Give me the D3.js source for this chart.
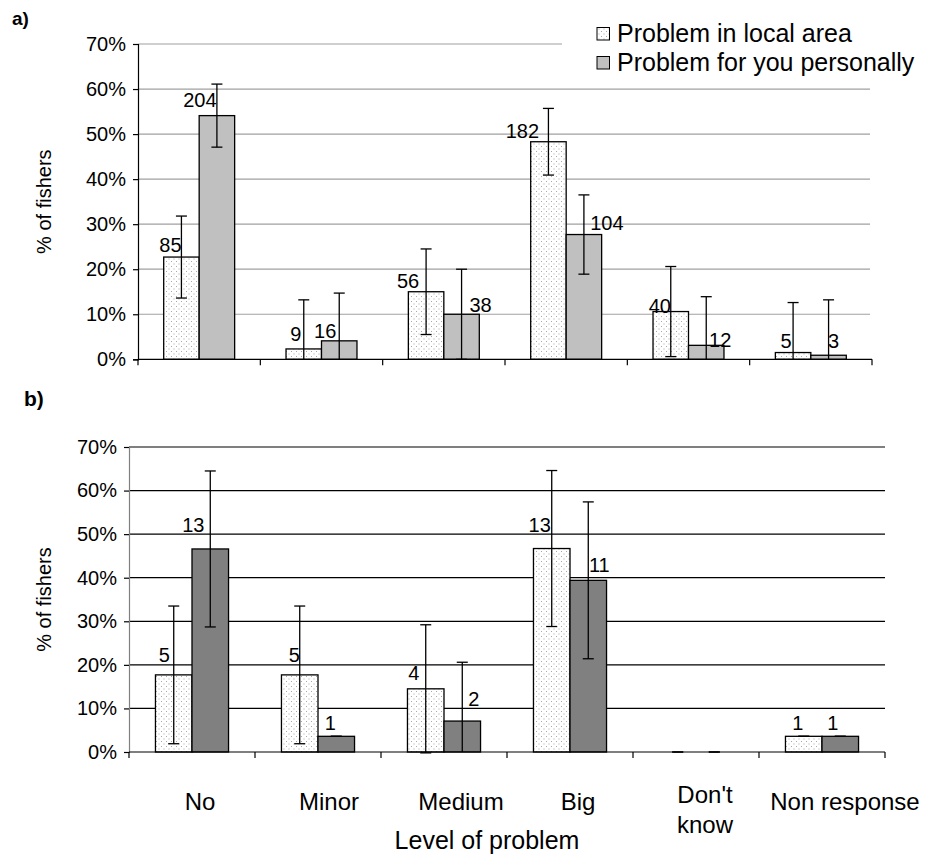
<!DOCTYPE html>
<html><head><meta charset="utf-8">
<script src="https://cdn.jsdelivr.net/npm/d3@7"></script>
<style>body{margin:0;background:#fff}svg{display:block}text{font-family:"Liberation Sans",Arial,sans-serif;fill:#000}</style>
</head><body><svg id="c" width="927" height="856"></svg>
<script>
// ---------- DATA ----------
const categories = ["No", "Minor", "Medium", "Big", "Don't know", "Non response"];
const seriesNames = ["Problem in local area", "Problem for you personally"];
const yTicks = [0, 10, 20, 30, 40, 50, 60, 70];

// panel a) — % of fishers, error half-widths, counts
const aLocal      = [22.7, 2.3, 15.0, 48.3, 10.6, 1.5];
const aPersonal   = [54.1, 4.1, 10.0, 27.7, 3.1, 0.9];
const aLocalErr   = [9.1, 10.9, 9.5, 7.4, 10.0, 11.1];
const aPersonalErr= [7.0, 10.6, 10.0, 8.8, 10.8, 12.3];
const aLocalN     = [85, 9, 56, 182, 40, 5];
const aPersonalN  = [204, 16, 38, 104, 12, 3];

// panel b)
const bLocal      = [17.7, 17.7, 14.5, 46.7, 0, 3.6];
const bPersonal   = [46.6, 3.6, 7.1, 39.4, 0, 3.6];
const bLocalErr   = [15.8, 15.8, 14.7, 17.9, 0, 0];
const bPersonalErr= [17.9, 0, 13.5, 18.0, 0, 0];
const bLocalN     = [5, 5, 4, 13, null, 1];
const bPersonalN  = [13, 1, 2, 11, null, 1];

// ---------- STYLE / LAYOUT ----------
// label offsets [dx from bar centre, dy from bar top] (placement only)
const aLocalLab    = [[-11,-5.5],[-8,-8],[-18,-4],[-26,-4],[-11,1.5],[-7,-5]];
const aPersonalLab = [[-17,-8.5],[-14,-3],[19,-2],[23,-4.5],[14,1.5],[5,-7]];
const bLocalLab    = [[-9.5,-12.5],[-5.5,-13],[-12,-9],[-12,-16.5],[0,0],[-6,-6]];
const bPersonalLab = [[-17,-16.5],[-6,-6],[11.5,-15],[11,-8.5],[0,0],[-7.5,-6]];
const xLabelDx = [8, 11, 17, 8, 9, 23];

const svg = d3.select("#c");
const defs = svg.append("defs");
const pat = defs.append("pattern").attr("id","dots").attr("patternUnits","userSpaceOnUse")
  .attr("width",5).attr("height",5);
pat.append("rect").attr("width",5).attr("height",5).attr("fill","#fff");
pat.append("rect").attr("x",1).attr("y",1).attr("width",1).attr("height",1).attr("fill","#a8a8a8");
pat.append("rect").attr("x",3.5).attr("y",3.5).attr("width",1).attr("height",1).attr("fill","#a8a8a8");

function panel(cfg){
  const g = svg.append("g");
  const x = d3.scaleBand().domain(categories).range([cfg.x0, cfg.x1]).paddingInner(0).paddingOuter(0);
  const y = d3.scaleLinear().domain([0,70]).range([cfg.yb, cfg.yt]);
  const w = x.bandwidth(), bw = w*0.29;
  const sub = d3.scaleBand().domain([0,1]).range([w/2-bw, w/2+bw]);

  // gridlines
  g.append("g").selectAll("line").data(yTicks.filter(d=>d>0)).join("line")
    .attr("x1",cfg.x0).attr("x2",cfg.gridEnd).attr("y1",d=>y(d)).attr("y2",d=>y(d))
    .attr("stroke",cfg.gridColor).attr("stroke-width",1.2);

  // y axis
  const ya = g.append("g").attr("transform",`translate(${cfg.x0},0)`)
    .call(d3.axisLeft(y).tickValues(yTicks).tickFormat(d=>d+"%").tickSize(5).tickPadding(7));
  ya.select(".domain").attr("stroke",cfg.yAxisColor).attr("stroke-width",1.2);
  ya.selectAll(".tick line").attr("stroke","#000").attr("stroke-width",1.2);
  ya.selectAll(".tick text").attr("font-size",20).attr("font-family",'"Liberation Sans",Arial,sans-serif');

  const series = [
    {v:cfg.local, e:cfg.localErr, n:cfg.localN, lab:cfg.localLab, fill:"url(#dots)", k:0},
    {v:cfg.personal, e:cfg.personalErr, n:cfg.personalN, lab:cfg.personalLab, fill:cfg.personalColor, k:1}
  ];
  series.forEach(s=>{
    const bars = categories.map((c,i)=>({c,i,v:s.v[i],e:s.e[i],n:s.n[i],lab:s.lab[i]}));
    g.append("g").selectAll("rect").data(bars.filter(d=>d.v>0)).join("rect")
      .attr("x",d=>x(d.c)+sub(s.k)).attr("width",sub.bandwidth())
      .attr("y",d=>y(d.v)).attr("height",d=>y(0)-y(d.v))
      .attr("fill",s.fill).attr("stroke","#000").attr("stroke-width",1.3);
    s.bars = bars;
  });
  // x axis line + ticks
  g.append("line").attr("x1",cfg.x0).attr("x2",cfg.x1).attr("y1",y(0)).attr("y2",y(0))
    .attr("stroke","#000").attr("stroke-width",1.2);
  const edges = categories.map(c=>x(c)).concat([cfg.x1]);
  g.append("g").selectAll("line").data(edges).join("line")
    .attr("x1",d=>d).attr("x2",d=>d).attr("y1",y(0)).attr("y2",y(0)+6)
    .attr("stroke","#000").attr("stroke-width",1.2);

  // error bars
  const cap = 5.5;
  series.forEach(s=>{
    const eg = g.append("g").attr("stroke","#000").attr("stroke-width",1.3);
    s.bars.forEach(d=>{
      const cx = x(d.c)+sub(s.k)+sub.bandwidth()/2;
      const hi = d.v+d.e, lo = d.v-d.e;
      const loClip = lo < -1 ? 0 : lo;
      eg.append("line").attr("x1",cx).attr("x2",cx).attr("y1",y(hi)).attr("y2",y(loClip));
      eg.append("line").attr("x1",cx-cap).attr("x2",cx+cap).attr("y1",y(hi)).attr("y2",y(hi));
      if (lo >= -1) eg.append("line").attr("x1",cx-cap).attr("x2",cx+cap).attr("y1",y(lo)).attr("y2",y(lo));
    });
  });
  // data labels
  series.forEach(s=>{
    g.append("g").selectAll("text").data(s.bars.filter(d=>d.n!=null)).join("text")
      .attr("x",d=>x(d.c)+sub(s.k)+sub.bandwidth()/2+d.lab[0])
      .attr("y",d=>y(d.v)+d.lab[1])
      .attr("text-anchor","middle").attr("font-size",20).text(d=>d.n);
  });

  // y title
  g.append("text").attr("transform",`translate(${cfg.titleX},${(y(0)+y(70))/2}) rotate(-90)`)
    .attr("text-anchor","middle").attr("font-size",20).text("% of fishers");
  // panel letter
  g.append("text").attr("x",cfg.letterX).attr("y",cfg.letterY).attr("font-size",cfg.letterSize)
    .attr("font-weight","bold").text(cfg.letter);
  return {x,y};
}

// panel a
const pa = panel({x0:138, x1:872, yb:359.3, yt:44, gridEnd:870, gridColor:"#a0a0a0", yAxisColor:"#000",
  local:aLocal, personal:aPersonal, localErr:aLocalErr, personalErr:aPersonalErr,
  localN:aLocalN, personalN:aPersonalN, localLab:aLocalLab, personalLab:aPersonalLab,
  personalColor:"#c0c0c0", titleX:51, letter:"a)", letterX:12, letterY:25, letterSize:19});

// legend (white box hides gridline behind it)
const lg = svg.append("g");
lg.append("rect").attr("x",562).attr("y",14).attr("width",365).attr("height",66).attr("fill","#fff");
const legRows = [{fill:"url(#dots)", y:34},{fill:"#c0c0c0", y:63}];
lg.selectAll("rect.sw").data(legRows).join("rect").attr("class","sw")
  .attr("x",597).attr("y",d=>d.y-6.5).attr("width",12.5).attr("height",12.5)
  .attr("fill",d=>d.fill).attr("stroke","#000").attr("stroke-width",1);
lg.selectAll("text").data(legRows).join("text")
  .attr("x",617).attr("y",d=>d.y+8).attr("font-size",25).text((d,i)=>seriesNames[i]);

// panel b
const pb = panel({x0:129, x1:885, yb:752, yt:447, gridEnd:885, gridColor:"#000", yAxisColor:"#808080",
  local:bLocal, personal:bPersonal, localErr:bLocalErr, personalErr:bPersonalErr,
  localN:bLocalN, personalN:bPersonalN, localLab:bLocalLab, personalLab:bPersonalLab,
  personalColor:"#808080", titleX:51, letter:"b)", letterX:24, letterY:406, letterSize:21});

// category labels (panel b)
const xl = svg.append("g");
categories.forEach((c,i)=>{
  const cx = pb.x(c)+pb.x.bandwidth()/2+xLabelDx[i];
  const parts = c === "Don't know" ? ["Don't","know"] : [c];
  const t = xl.append("text").attr("text-anchor","middle").attr("font-size",24)
    .attr("y", parts.length>1 ? 803 : 810);
  parts.forEach((p,j)=>t.append("tspan").attr("x",cx).attr("dy",j?30:0).text(p));
});
svg.append("text").attr("x",487).attr("y",849).attr("text-anchor","middle").attr("font-size",25)
  .text("Level of problem");
</script></body></html>
